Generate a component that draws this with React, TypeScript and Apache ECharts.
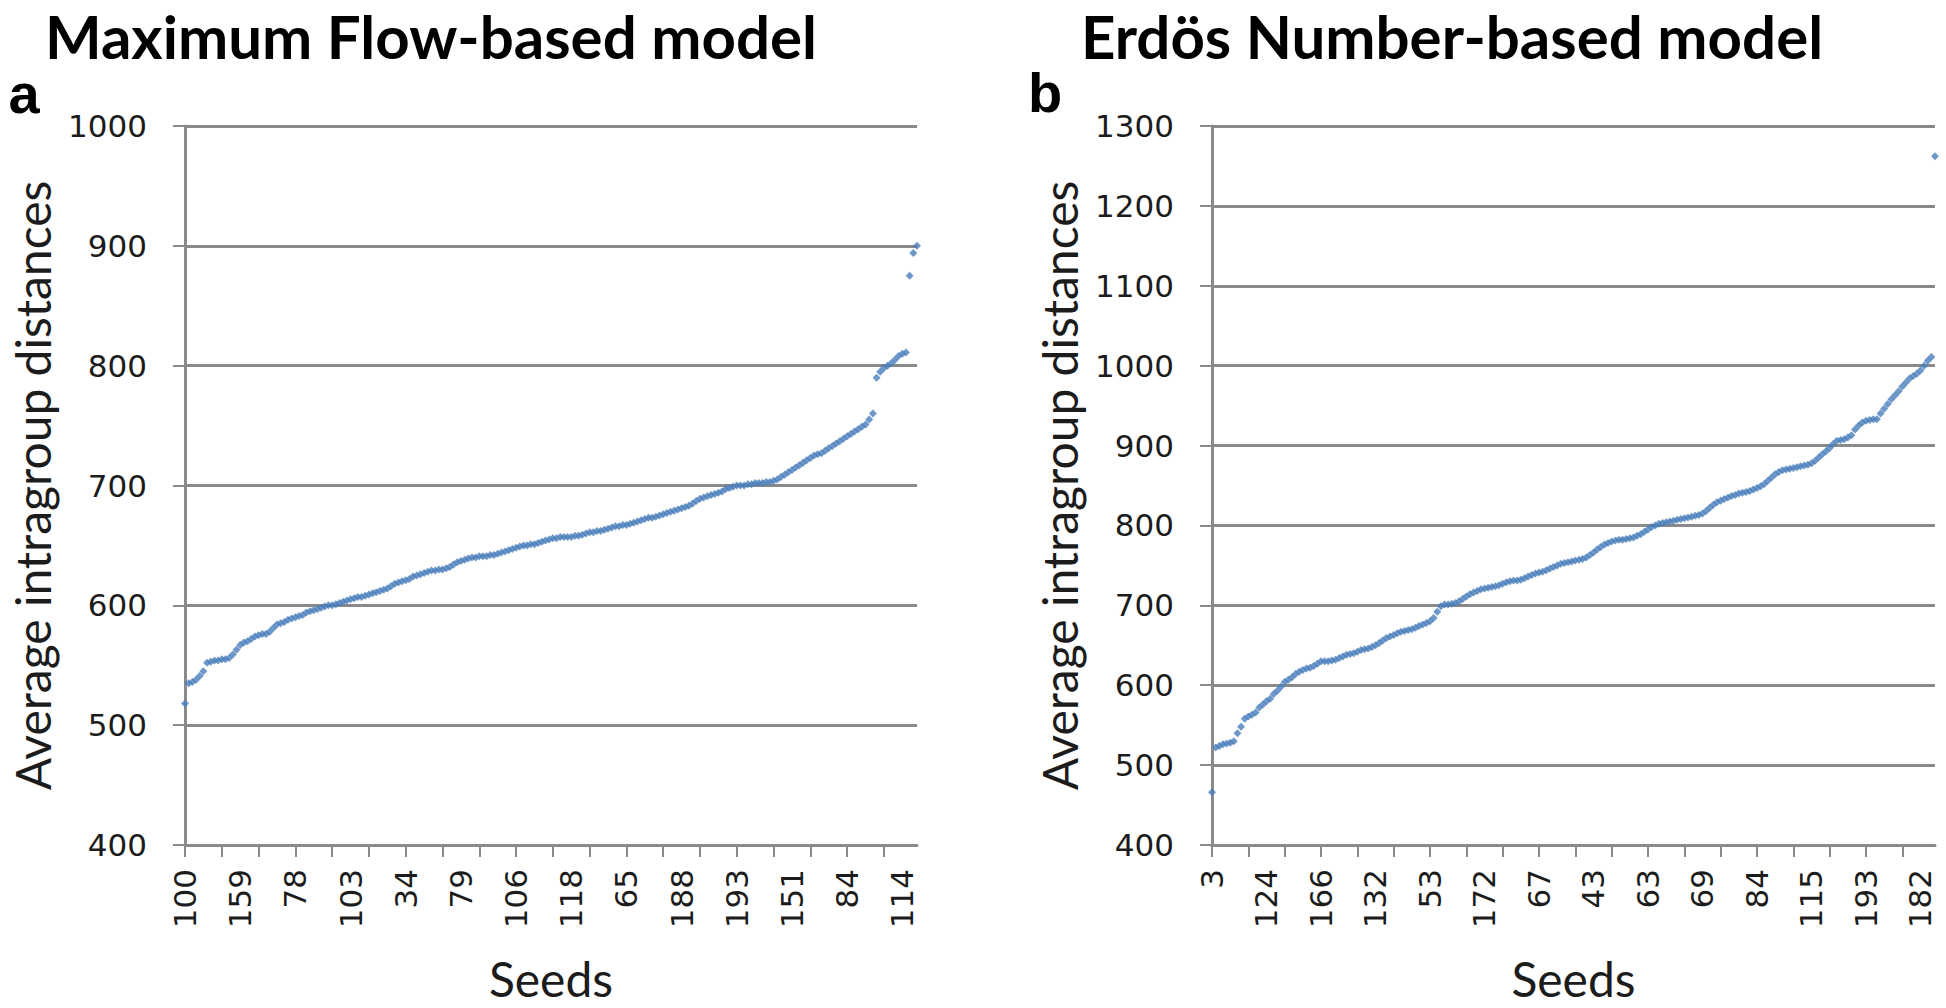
import React, { useEffect, useRef } from "react";
import * as echarts from "echarts";

// ---- Data -------------------------------------------------------------
// Seed labels shown on the x axes (every 15th of the 200 sorted seeds)
const leftSeedLabels = ["100", "159", "78", "103", "34", "79", "106", "118", "65", "188", "193", "151", "84", "114"];
const rightSeedLabels = ["3", "124", "166", "132", "53", "172", "67", "43", "63", "69", "84", "115", "193", "182"];
const LABEL_EVERY = 15;

// Maximum Flow-based model: average intragroup distances (sorted)
const leftValues = [
  518, 535, 536, 538, 541, 545, 552, 553, 554, 554,
  555, 555, 556, 559, 563, 567, 569, 570, 572, 574,
  575, 576, 576, 578, 581, 584, 585, 586, 588, 589,
  590, 591, 592, 594, 595, 596, 597, 598, 599, 600,
  600, 601, 602, 603, 604, 605, 606, 607, 607, 608,
  609, 610, 611, 612, 613, 614, 616, 618, 619, 620,
  621, 622, 624, 625, 626, 627, 628, 629, 629, 630,
  630, 631, 632, 634, 636, 637, 638, 639, 640, 640,
  641, 641, 641, 642, 642, 643, 644, 645, 646, 647,
  648, 649, 650, 650, 651, 651, 652, 653, 654, 655,
  656, 656, 657, 657, 657, 657, 658, 658, 659, 660,
  661, 661, 662, 662, 663, 664, 665, 666, 666, 667,
  667, 668, 669, 670, 671, 672, 673, 673, 674, 675,
  676, 677, 678, 679, 680, 681, 682, 683, 685, 687,
  689, 690, 691, 692, 693, 694, 695, 697, 698, 699,
  700, 700, 700, 701, 701, 702, 702, 702, 703, 703,
  704, 705, 707, 709, 711, 713, 715, 717, 719, 721,
  723, 725, 726, 727, 729, 731, 733, 735, 737, 739,
  741, 743, 745, 747, 749, 751, 755, 760, 790, 795,
  798, 800, 802, 805, 808, 810, 811, 875, 894, 900,
];

// Erdös Number-based model: average intragroup distances (sorted)
const rightValues = [
  466, 522, 524, 526, 527, 528, 530, 540, 548, 558,
  561, 563, 566, 572, 576, 580, 583, 589, 593, 598,
  604, 607, 610, 614, 617, 619, 621, 622, 624, 627,
  630, 630, 630, 631, 632, 634, 636, 638, 639, 640,
  642, 644, 645, 646, 648, 650, 653, 656, 659, 661,
  663, 665, 667, 668, 669, 670, 672, 674, 676, 678,
  680, 684, 692, 699, 701, 701, 702, 703, 705, 708,
  711, 714, 716, 718, 720, 721, 722, 723, 724, 725,
  727, 729, 730, 731, 731, 732, 734, 736, 738, 740,
  741, 742, 744, 746, 748, 750, 752, 753, 754, 755,
  756, 757, 758, 760, 763, 766, 770, 773, 776, 778,
  780, 781, 782, 782, 783, 784, 785, 787, 789, 792,
  795, 798, 800, 802, 803, 804, 805, 806, 807, 808,
  809, 810, 811, 812, 813, 815, 818, 822, 826, 829,
  831, 833, 835, 837, 838, 840, 841, 842, 843, 845,
  847, 849, 852, 856, 860, 864, 867, 869, 870, 871,
  872, 873, 874, 875, 876, 878, 881, 885, 889, 893,
  897, 902, 906, 907, 908, 910, 913, 920, 925, 929,
  931, 932, 933, 933, 940, 946, 952, 958, 963, 968,
  974, 979, 984, 987, 990, 994, 1000, 1006, 1011, 1262,
];

const leftYAxis = { min: 400, max: 1000, interval: 100 };
const rightYAxis = { min: 400, max: 1300, interval: 100 };

const leftTitle = "Maximum Flow-based model";
const rightTitle = "Erdös Number-based model";
const yAxisName = "Average intragroup distances";
const xAxisName = "Seeds";

// ---- Chart ------------------------------------------------------------
const buildCategories = (labels: string[], count: number) =>
  Array.from({ length: count }, (_, i) =>
    i % LABEL_EVERY === 0 && labels[i / LABEL_EVERY] !== undefined ? labels[i / LABEL_EVERY] : ""
  );

const GRAY = "#8a8a8a";
const TEXT = "#1c1c1c";
const MARK = "#4a7ebb";

export default function App() {
  const ref = useRef<HTMLDivElement | null>(null);

  useEffect(() => {
    if (!ref.current) return;
    const chart = echarts.init(ref.current, null, { renderer: "svg" });

    const xAxisBase = (gridIndex: number, data: string[]) => ({
      type: "category",
      gridIndex,
      data,
      boundaryGap: false,
      axisLine: { show: true, lineStyle: { color: GRAY, width: 3 } },
      axisTick: { show: true, interval: 9, length: 12, lineStyle: { color: GRAY, width: 2 } },
      axisLabel: {
        interval: LABEL_EVERY - 1,
        rotate: 90,
        margin: 24,
        fontFamily: "DejaVu Sans",
        fontSize: 31,
        color: TEXT,
      },
      splitLine: { show: false },
      name: xAxisName,
      nameLocation: "middle",
      nameGap: 108,
      nameTextStyle: { fontFamily: "Lato", fontSize: 48, lineHeight: 50, color: TEXT },
    });

    const yAxisBase = (gridIndex: number, range: { min: number; max: number; interval: number }) => ({
      type: "value",
      gridIndex,
      min: range.min,
      max: range.max,
      interval: range.interval,
      axisLine: { show: true, lineStyle: { color: GRAY, width: 3 } },
      axisTick: { show: true, length: 12, lineStyle: { color: GRAY, width: 2 } },
      splitLine: { show: true, lineStyle: { color: GRAY, width: 3 } },
      axisLabel: {
        margin: 38,
        fontFamily: "DejaVu Sans",
        fontSize: 31,
        color: TEXT,
        formatter: (v: number) => String(v),
      },
      name: yAxisName,
      nameLocation: "middle",
      nameGap: 128,
      nameTextStyle: { fontFamily: "Lato", fontSize: 48, lineHeight: 50, color: TEXT },
    });

    const seriesBase = (idx: number, data: number[]) => ({
      type: "scatter",
      xAxisIndex: idx,
      yAxisIndex: idx,
      data,
      symbol: "diamond",
      symbolSize: [8, 8],
      itemStyle: { color: MARK },
    });

    chart.setOption({
      animation: false,
      backgroundColor: "#ffffff",
      grid: [
        { left: 185, top: 126, width: 732, height: 727 },
        { left: 1212, top: 126, width: 723, height: 727 },
      ],
      xAxis: [
        xAxisBase(0, buildCategories(leftSeedLabels, leftValues.length)),
        xAxisBase(1, buildCategories(rightSeedLabels, rightValues.length)),
      ],
      yAxis: [yAxisBase(0, leftYAxis), yAxisBase(1, rightYAxis)],
      series: [seriesBase(0, leftValues), seriesBase(1, rightValues)],
      graphic: [
        {
          type: "text",
          x: 431,
          y: 36,
          style: {
            text: leftTitle,
            font: "bold 60px Lato",
            fill: "#000",
            textAlign: "center",
            textVerticalAlign: "middle",
          },
        },
        {
          type: "text",
          x: 1452,
          y: 36,
          style: {
            text: rightTitle,
            font: "bold 60px Lato",
            fill: "#000",
            textAlign: "center",
            textVerticalAlign: "middle",
          },
        },
        {
          type: "text",
          x: 24,
          y: 93,
          style: {
            text: "a",
            font: "bold 56px 'Liberation Sans'",
            fill: "#000",
            textAlign: "center",
            textVerticalAlign: "middle",
          },
        },
        {
          type: "text",
          x: 1045,
          y: 92,
          style: {
            text: "b",
            font: "bold 56px 'Liberation Sans'",
            fill: "#000",
            textAlign: "center",
            textVerticalAlign: "middle",
          },
        },
      ],
    });

    return () => chart.dispose();
  }, []);

  return (
    <div
      ref={ref}
      style={{ position: "absolute", left: 0, top: 0, width: 1946, height: 1008, background: "#fff" }}
    />
  );
}
